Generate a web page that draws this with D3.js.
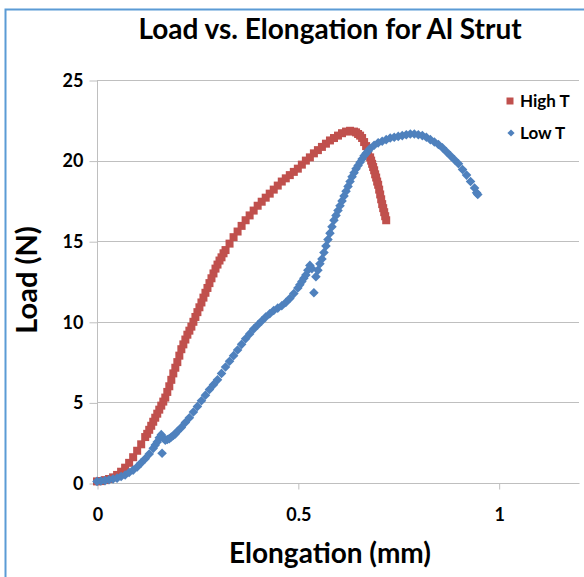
<!DOCTYPE html>
<html>
<head>
<meta charset="utf-8">
<script src="https://cdn.jsdelivr.net/npm/d3@7"></script>
<style>
  html, body { margin: 0; padding: 0; background: #fff; }
  svg { display: block; }
  text { font-family: Lato, "Open Sans", sans-serif; font-weight: bold; fill: #000; }
</style>
</head>
<body>
<svg id="chart" width="584" height="577"></svg>
<script>
// ---- Data ----
const seriesNames = ["High T", "Low T"];
const xTicks = [0, 0.5, 1];
const xTickLabels = ["0", "0.5", "1"];
const yTicks = [0, 5, 10, 15, 20, 25];
const yTickLabels = ["0", "5", "10", "15", "20", "25"];

const highX = [0.00,0.01,0.02,0.03,0.04,0.05,0.06,0.07,0.08,0.09,0.10,0.11,0.12,0.125,0.13,0.135,0.14,0.145,0.15,0.155,0.16,0.165,0.17,0.175,0.18,0.185,0.19,0.195,0.20,0.205,0.21,0.215,0.22,0.225,0.23,0.235,0.24,0.245,0.25,0.255,0.26,0.265,0.27,0.275,0.28,0.285,0.29,0.295,0.30,0.305,0.31,0.315,0.32,0.33,0.34,0.35,0.36,0.37,0.38,0.39,0.40,0.41,0.42,0.43,0.44,0.45,0.46,0.47,0.48,0.49,0.50,0.51,0.52,0.53,0.54,0.55,0.56,0.57,0.58,0.59,0.60,0.61,0.62,0.63,0.64,0.645,0.65,0.655,0.66,0.665,0.67,0.675,0.68,0.6825,0.685,0.6875,0.69,0.6925,0.695,0.6975,0.70,0.7025,0.705,0.7075,0.71,0.7125,0.715,0.7175,0.72];
const highY = [0.10,0.12,0.18,0.25,0.35,0.50,0.70,0.95,1.25,1.60,2.00,2.40,2.85,3.05,3.30,3.55,3.80,4.05,4.30,4.55,4.80,5.05,5.30,5.65,6.00,6.40,6.80,7.15,7.50,7.90,8.30,8.60,8.90,9.20,9.45,9.70,10.00,10.30,10.60,10.90,11.20,11.50,11.80,12.10,12.40,12.70,13.00,13.30,13.55,13.80,14.00,14.25,14.45,14.85,15.25,15.60,15.95,16.30,16.60,16.90,17.20,17.45,17.70,17.95,18.20,18.45,18.70,18.90,19.10,19.30,19.50,19.75,20.00,20.20,20.45,20.65,20.85,21.05,21.25,21.40,21.55,21.70,21.80,21.85,21.80,21.75,21.65,21.55,21.40,21.15,20.90,20.55,20.20,20.00,19.80,19.60,19.40,19.15,18.95,18.70,18.50,18.20,17.90,17.60,17.30,17.05,16.80,16.55,16.30];

const lowX = [0.00,0.01,0.02,0.03,0.04,0.05,0.06,0.07,0.08,0.09,0.10,0.11,0.12,0.13,0.14,0.145,0.15,0.155,0.16,0.162,0.165,0.17,0.175,0.18,0.185,0.19,0.195,0.20,0.21,0.22,0.23,0.24,0.25,0.26,0.27,0.28,0.29,0.30,0.31,0.32,0.33,0.34,0.35,0.36,0.37,0.38,0.39,0.40,0.41,0.42,0.43,0.44,0.45,0.46,0.47,0.48,0.49,0.50,0.505,0.51,0.515,0.52,0.525,0.53,0.535,0.54,0.545,0.55,0.555,0.56,0.565,0.57,0.575,0.58,0.585,0.59,0.595,0.60,0.605,0.61,0.615,0.62,0.625,0.63,0.635,0.64,0.645,0.65,0.655,0.66,0.665,0.67,0.675,0.68,0.69,0.70,0.71,0.72,0.73,0.74,0.75,0.76,0.77,0.78,0.79,0.80,0.81,0.82,0.83,0.84,0.85,0.86,0.87,0.88,0.89,0.90,0.91,0.92,0.93,0.94,0.945,0.948];
const lowY = [0.10,0.12,0.15,0.20,0.25,0.30,0.40,0.50,0.65,0.80,1.00,1.25,1.50,1.80,2.15,2.35,2.55,2.80,3.00,1.85,2.80,2.65,2.70,2.75,2.85,2.95,3.05,3.20,3.45,3.75,4.05,4.40,4.75,5.10,5.45,5.80,6.10,6.40,6.80,7.20,7.55,7.90,8.25,8.60,8.95,9.25,9.55,9.80,10.05,10.30,10.50,10.70,10.85,11.00,11.20,11.45,11.75,12.10,12.30,12.50,12.70,12.90,13.20,13.50,13.30,11.80,12.80,13.20,13.60,13.90,14.30,14.70,15.10,15.50,15.90,16.30,16.60,16.90,17.20,17.50,17.80,18.10,18.40,18.70,19.00,19.25,19.50,19.70,19.90,20.10,20.30,20.45,20.60,20.75,20.95,21.10,21.20,21.30,21.40,21.45,21.50,21.55,21.60,21.65,21.65,21.60,21.55,21.45,21.30,21.15,21.00,20.80,20.55,20.30,20.05,19.80,19.45,19.10,18.70,18.30,18.00,17.90];

const highColor = "#C0504D";
const lowColor = "#4F81BD";

// ---- Layout ----
const svg = d3.select("#chart");
const W = 584, H = 577;
const plot = { left: 97, right: 579, top: 80, bottom: 483 };

const x = d3.scaleLinear().domain([0, 1.2]).range([plot.left, plot.right]);
const y = d3.scaleLinear().domain([0, 25]).range([plot.bottom, plot.top]);

// chart frame
svg.append("rect").attr("x", 5.5).attr("y", 9.5).attr("width", W + 10).attr("height", H + 10)
  .attr("fill", "#fff").attr("stroke", "#5B9BD5").attr("stroke-width", 2);

// title
svg.append("text").attr("x", 330).attr("y", 39).attr("text-anchor", "middle")
  .style("font-size", "28px").text("Load vs. Elongation for Al Strut");

// gridlines
svg.append("g").selectAll("line").data(yTicks.slice(1)).join("line")
  .attr("x1", plot.left).attr("x2", plot.right)
  .attr("y1", d => Math.round(y(d)) + 0.5).attr("y2", d => Math.round(y(d)) + 0.5)
  .attr("stroke", "#BFBFBF").attr("stroke-width", 1);

// y axis
const yAxis = d3.axisLeft(y).tickValues(yTicks).tickFormat((d, i) => yTickLabels[i]).tickSize(8).tickPadding(6);
const gy = svg.append("g").attr("transform", `translate(${plot.left + 0.5},0.5)`).call(yAxis);
gy.select(".domain").attr("stroke", "#BFBFBF").attr("d", `M0,${plot.top}V${plot.bottom}`);
gy.selectAll(".tick line").attr("stroke", "#BFBFBF");
gy.selectAll(".tick text").style("font-size", "18px").style("font-family", "Lato, sans-serif").attr("fill", "#000");

// x axis
const xAxis = d3.axisBottom(x).tickValues(xTicks).tickFormat((d, i) => xTickLabels[i]).tickSize(6).tickPadding(19);
const gx = svg.append("g").attr("transform", `translate(0.5,${plot.bottom + 0.5})`).call(xAxis);
gx.select(".domain").attr("stroke", "#BFBFBF").attr("d", `M${plot.left},0H${plot.right}`);
gx.selectAll(".tick line").attr("stroke", "#BFBFBF");
gx.selectAll(".tick text").style("font-size", "18px").style("font-family", "Lato, sans-serif").attr("fill", "#000");

// axis titles
svg.append("text").attr("x", 330).attr("y", 563).attr("text-anchor", "middle")
  .style("font-size", "28px").text("Elongation (mm)");
svg.append("text").attr("transform", `translate(37,280) rotate(-90)`).attr("text-anchor", "middle")
  .style("font-size", "29px").text("Load (N)");

// series
const highData = highX.map((v, i) => ({ x: v, y: highY[i] }));
const lowData = lowX.map((v, i) => ({ x: v, y: lowY[i] }));

const sq = d3.symbol().type(d3.symbolSquare).size(64);
const dm = d3.symbol().type(d3.symbolSquare).size(46);   // rotated 45° -> Excel-style diamond
const sqL = d3.symbol().type(d3.symbolSquare).size(49);
const dmL = d3.symbol().type(d3.symbolSquare).size(26);

svg.append("g").selectAll("path").data(highData).join("path")
  .attr("d", sq).attr("transform", d => `translate(${x(d.x)},${y(d.y)})`)
  .attr("fill", highColor);

svg.append("g").selectAll("path").data(lowData).join("path")
  .attr("d", dm).attr("transform", d => `translate(${x(d.x)},${y(d.y)}) rotate(45)`)
  .attr("fill", lowColor);

// legend
const legend = svg.append("g");
legend.append("path").attr("d", sqL).attr("transform", "translate(510,101)").attr("fill", highColor);
legend.append("text").attr("x", 520).attr("y", 107).style("font-size", "17px").text(seriesNames[0]);
legend.append("path").attr("d", dmL).attr("transform", "translate(511,133) rotate(45)").attr("fill", lowColor);
legend.append("text").attr("x", 520).attr("y", 139).style("font-size", "17px").text(seriesNames[1]);
</script>
</body>
</html>
